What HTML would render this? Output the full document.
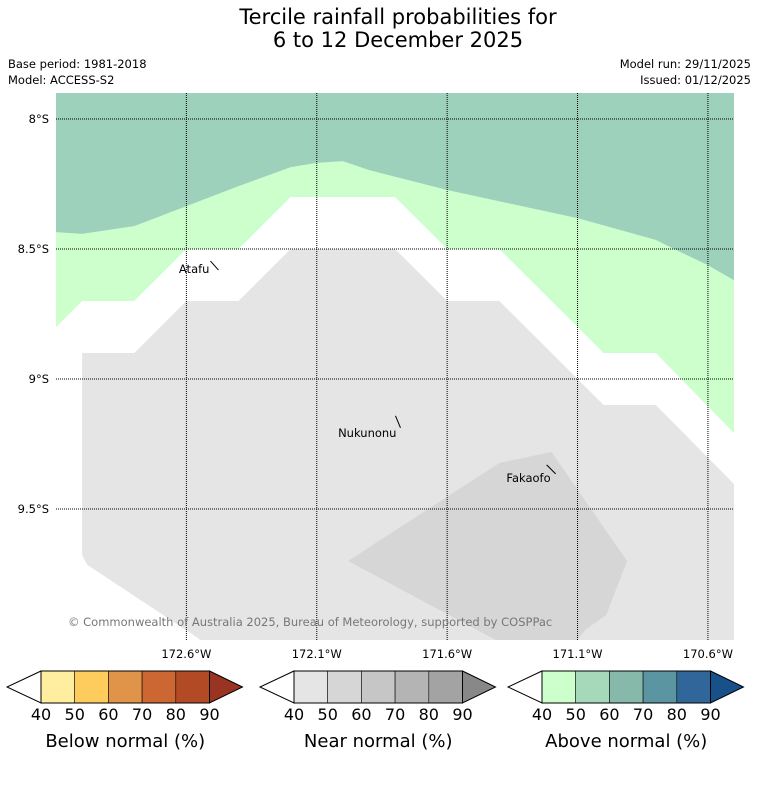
<!DOCTYPE html>
<html><head><meta charset="utf-8">
<style>
html,body{margin:0;padding:0;background:#fff;}
body{width:758px;height:781px;overflow:hidden;font-family:"Liberation Sans","DejaVu Sans",sans-serif;}
svg text{font-family:"DejaVu Sans","Liberation Sans",sans-serif;}
</style></head>
<body>
<svg id="chart" width="758" height="781" xmlns="http://www.w3.org/2000/svg">
<text x="398" y="24" font-size="21" text-anchor="middle">Tercile rainfall probabilities for</text>
<text x="398" y="47" font-size="21" text-anchor="middle">6 to 12 December 2025</text>
<text x="8" y="68" font-size="11.5">Base period: 1981-2018</text>
<text x="8" y="84" font-size="11.5">Model: ACCESS-S2</text>
<text x="751" y="68" font-size="11.5" text-anchor="end">Model run: 29/11/2025</text>
<text x="751" y="84" font-size="11.5" text-anchor="end">Issued: 01/12/2025</text>
<defs><clipPath id="mapclip"><rect x="56" y="93" width="678" height="547"/></clipPath></defs>
<g id="map" clip-path="url(#mapclip)"></g>
<g id="grid"></g>
<g id="labels"></g>
<g id="bars"></g>
</svg>
<script>
// map extent (degrees)
const lonMin = -173.1, lonMax = -170.5, latTop = -7.9, latBot = -10.004;
const latTicks = [-8, -8.5, -9, -9.5];
const latTickLabels = ["8°S", "8.5°S", "9°S", "9.5°S"];
const lonTicks = [-172.6, -172.1, -171.6, -171.1, -170.6];
const lonTickLabels = ["172.6°W", "172.1°W", "171.6°W", "171.1°W", "170.6°W"];
// probability regions [lon, lat]
const aboveLight = [[-173.1,-7.9],[-170.5,-7.9],[-170.5,-9.208],[-170.8,-8.9],[-171.0,-8.9],[-171.4,-8.5],[-171.6,-8.5],[-171.8,-8.3],[-172.2,-8.3],[-172.4,-8.5],[-172.6,-8.5],[-172.8,-8.7],[-173.0,-8.7],[-173.1,-8.8]];
const aboveDark = [[-173.1,-7.9],[-170.5,-7.9],[-170.5,-8.62],[-170.6,-8.562],[-170.73,-8.5],[-170.8,-8.465],[-171.1,-8.381],[-171.6,-8.273],[-171.9,-8.196],[-172.0,-8.162],[-172.1,-8.169],[-172.2,-8.185],[-172.4,-8.258],[-172.6,-8.335],[-172.8,-8.412],[-173.0,-8.442],[-173.1,-8.435]];
const nearLight = [[-173.0,-8.9],[-172.8,-8.9],[-172.6,-8.7],[-172.4,-8.7],[-172.2,-8.5],[-171.8,-8.5],[-171.6,-8.7],[-171.4,-8.7],[-171.0,-9.1],[-170.8,-9.1],[-170.5,-9.404],[-170.5,-10.1],[-172.55,-10.1],[-172.55,-10.0],[-172.98,-9.715],[-173.0,-9.677]];
const nearDark = [[-171.98,-9.70],[-171.4,-9.323],[-171.2,-9.281],[-170.91,-9.70],[-170.99,-9.908],[-171.07,-9.965],[-171.1,-10.004],[-171.414,-10.004]];
const islandNames = ["Atafu", "Nukunonu", "Fakaofo"];
const islandLon = [-172.477, -171.779, -171.184];
const islandLat = [-8.581, -9.188, -9.365];
// colorbar data
const cbTicks = [40, 50, 60, 70, 80, 90];
const cbTitles = ["Below normal (%)", "Near normal (%)", "Above normal (%)"];
const cbColors = [
  ["#ffeda0","#fecc5c","#e0944a","#cc6633","#b34a26","#993322"],
  ["#e5e5e5","#d6d6d6","#c6c6c6","#b4b4b4","#a3a3a3","#888888"],
  ["#ccffcc","#a6d9b9","#86b9aa","#5b95a2","#306699","#18508a"]
];
// label leader-line styling (not data)
const leaderStyle = [[-8,-9,-9,3],[-5,-12,-4,9],[-9,-9,-5,8]];

const NS = "http://www.w3.org/2000/svg";
const x0 = 56, x1 = 734, y0 = 93, y1 = 640;
const xs = lon => x0 + (lon - lonMin) / (lonMax - lonMin) * (x1 - x0);
const ys = lat => y0 + (latTop - lat) / (latTop - latBot) * (y1 - y0);
function mk(tag, attrs, parent){const e=document.createElementNS(NS,tag);for(const k in attrs)e.setAttribute(k,attrs[k]);parent.appendChild(e);return e;}
const map=document.getElementById('map'), grid=document.getElementById('grid'), labels=document.getElementById('labels'), bars=document.getElementById('bars');
const ptsStr = arr => arr.map(p=>xs(p[0]).toFixed(1)+','+ys(p[1]).toFixed(1)).join(' ');
const polys=[[aboveLight,'#ccffcc','above-normal-50-region'],[aboveDark,'#9dd1bc','above-normal-60-region'],[nearLight,'#e5e5e5','near-normal-40-region'],[nearDark,'#d6d6d6','near-normal-50-region']];
polys.forEach(p=>{
  const e=mk('polygon',{points:ptsStr(p[0]),fill:p[1]},map);
  
  
});
latTicks.forEach((lt,i)=>{
  const y=ys(lt);
  const l=mk('line',{x1:x0,x2:x1,y1:y,y2:y,stroke:'#000','stroke-width':1,'stroke-dasharray':'1,1'},grid);
  
  
  const t=mk('text',{x:49,y:y+4,'font-size':11.5,'text-anchor':'end'},grid);
  t.textContent=latTickLabels[i];
  
  
});
lonTicks.forEach((ln,i)=>{
  const x=xs(ln);
  const l=mk('line',{x1:x,x2:x,y1:y0,y2:y1,stroke:'#000','stroke-width':1,'stroke-dasharray':'1,1'},grid);
  
  
  const t=mk('text',{x:x,y:658,'font-size':11.5,'text-anchor':'middle'},grid);
  t.textContent=lonTickLabels[i];
  
  
});
islandNames.forEach((n,i)=>{
  const x=xs(islandLon[i]), y=ys(islandLat[i]), s=leaderStyle[i];
  const l=mk('line',{x1:x+s[0],y1:y+s[1],x2:x,y2:y,stroke:'#000','stroke-width':1},labels);
  
  
  const t=mk('text',{x:x+s[2],y:y+s[3],'font-size':11.5,'text-anchor':'end'},labels);
  t.textContent=n;
  
  
});
const cp=mk('text',{x:68,y:626,'font-size':11.5,fill:'#777'},labels);
cp.textContent='© Commonwealth of Australia 2025, Bureau of Meteorology, supported by COSPPac';


// colorbars
const cbLeft=[41,294,542], cbW=168.5, cbTop=671, cbH=32;
cbColors.forEach((cols,b)=>{
  const L=cbLeft[b], seg=cbW/5, mid=cbTop+cbH/2, R=L+cbW;
  const g=mk('g',{},bars);
  
  
  mk('polygon',{points:`${L},${cbTop} ${L-34},${mid} ${L},${cbTop+cbH}`,fill:'#fff',stroke:'#000','stroke-width':1},g);
  for(let i=0;i<5;i++){
    const r=mk('rect',{x:L+i*seg,y:cbTop,width:seg,height:cbH,fill:cols[i],stroke:'#000','stroke-width':0.6},g);
    
    
  }
  mk('polygon',{points:`${R},${cbTop} ${R+33},${mid} ${R},${cbTop+cbH}`,fill:cols[5],stroke:'#000','stroke-width':1},g);
  mk('rect',{x:L,y:cbTop,width:cbW,height:cbH,fill:'none',stroke:'#000','stroke-width':1},g);
  cbTicks.forEach((tk,i)=>{
    const t=mk('text',{x:L+i*seg,y:720,'font-size':16,'text-anchor':'middle'},g);
    t.textContent=tk;
    
    
  });
  const tt=mk('text',{x:L+cbW/2,y:747,'font-size':18,'text-anchor':'middle'},g);
  tt.textContent=cbTitles[b];
  
  
});
</script>
</body></html>
